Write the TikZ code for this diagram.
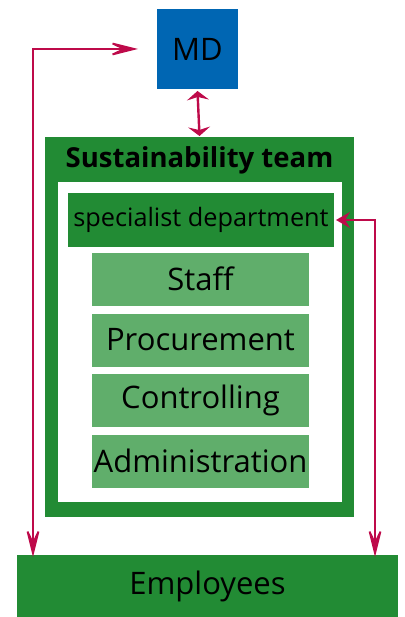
\documentclass[tikz,border=0pt]{standalone}
\usepackage{fontspec}
\setmainfont{Open Sans}
\usetikzlibrary{arrows.meta}
\definecolor{dgreen}{RGB}{34,139,52}
\definecolor{lgreen}{RGB}{96,174,107}
\definecolor{mdblue}{RGB}{0,102,179}
\definecolor{crim}{RGB}{190,10,74}
\tikzset{
  box/.style={draw=none,inner sep=0pt,outer sep=0pt,text=black},
  sub/.style={box,fill=lgreen,minimum width=217pt,minimum height=53pt,font=\fontsize{31}{31}\selectfont},
  link/.style={draw=crim,line width=1.8pt},
  bigtip/.tip={Stealth[length=34pt,width=17pt,inset=18pt]},
  midtip/.tip={Stealth[length=14pt,width=16pt,inset=5pt]},
  flattip/.tip={Stealth[length=9pt,width=22pt,inset=3pt]}
}
\begin{document}
\begin{tikzpicture}[x=1pt,y=-1pt]
\useasboundingbox (0,0) rectangle (404,617);
\node[box,fill=mdblue,minimum width=81pt,minimum height=80pt,font=\fontsize{31}{31}\selectfont] (MD) at (197.5,49) {MD};
\node[box,fill=dgreen,minimum width=309pt,minimum height=380pt] (team) at (199.5,327) {};
\node[box,font=\bfseries\fontsize{27.5}{27.5}\selectfont] (title) at (199.5,160) {Sustainability team};
\node[box,fill=white,minimum width=284pt,minimum height=320pt] (inner) at (200,342) {};
\node[box,fill=dgreen,minimum width=266pt,minimum height=54pt,font=\fontsize{25.3}{25.3}\selectfont] (spec) at (201,220) {specialist department};
\node[sub] (staff) at (200.5,279) {Staff};
\node[sub] (proc) at (200.5,340) {Procurement};
\node[sub] (ctrl) at (200.5,400) {Controlling};
\node[sub] (admin) at (200.5,461) {Administration};
\node[box,fill=dgreen,minimum width=381pt,minimum height=62pt,font=\fontsize{31}{31}\selectfont] (emp) at (207.5,586) {Employees};
\coordinate (lc) at (33,49);
\coordinate (rc) at (375,220);
\draw[link,line width=2.4pt,{flattip}-{flattip}] ([yshift=-2pt]MD.south) -- ([yshift=1pt]team.north);
\draw[link,{bigtip}-{bigtip}] ([xshift=-19pt]MD.west) -- (lc) -- ([yshift=-2pt]lc |- emp.north);
\draw[link,{bigtip}-{midtip}] ([yshift=-2pt]rc |- emp.north) -- (rc) -- ([xshift=2pt]spec.east);
\end{tikzpicture}
\end{document}
